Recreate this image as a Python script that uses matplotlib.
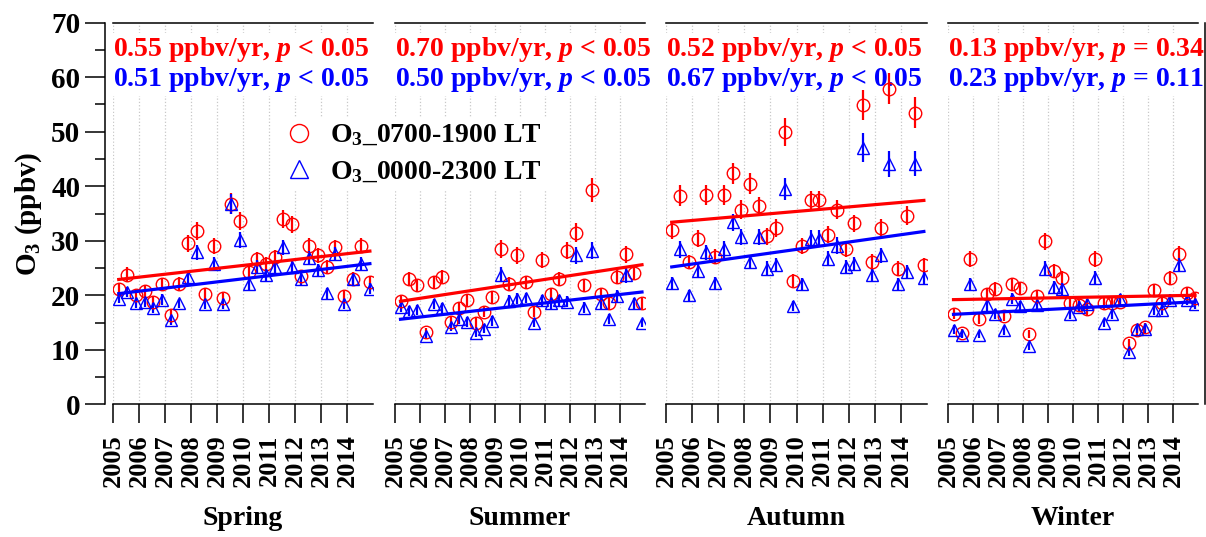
import numpy as np
import matplotlib
matplotlib.use("Agg")
import matplotlib.pyplot as plt
from matplotlib.lines import Line2D
from matplotlib.ticker import MultipleLocator

plt.rcParams['font.family'] = ['Liberation Serif', 'DejaVu Serif']
plt.rcParams['font.weight'] = 'bold'
plt.rcParams['mathtext.fontset'] = 'custom'
plt.rcParams['mathtext.rm'] = 'Liberation Serif:bold'
plt.rcParams['mathtext.it'] = 'Liberation Serif:italic:bold'
plt.rcParams['mathtext.bf'] = 'Liberation Serif:bold'

# data
seasons = ['Spring', 'Summer', 'Autumn', 'Winter']
years = list(range(2005, 2015))
month_offset = [0.22, 0.55, 0.88]   # three months of each season, in year fraction

o3_day = [
    [21.2, 23.8, 20.0, 20.8, 18.8, 22.0, 16.3, 22.1, 29.5, 31.8, 20.2, 29.0, 19.5, 36.8, 33.6,
     24.3, 26.7, 25.8, 27.0, 34.0, 33.0, 23.5, 29.1, 27.3, 25.2, 28.8, 19.8, 23.0, 29.1, 22.4],
    [18.9, 23.0, 21.8, 13.2, 22.4, 23.4, 15.1, 17.6, 19.1, 14.9, 17.0, 19.7, 28.5, 22.1, 27.3,
     22.4, 17.0, 26.5, 20.3, 23.0, 28.2, 31.5, 21.8, 39.3, 20.3, 18.5, 23.4, 27.5, 24.1, 18.5],
    [32.0, 38.3, 26.1, 30.4, 38.4, 27.1, 38.4, 42.4, 35.7, 40.5, 36.3, 30.8, 32.3, 50.0, 22.7,
     29.0, 37.4, 37.4, 31.1, 35.7, 28.4, 33.2, 54.9, 26.1, 32.3, 57.9, 24.9, 34.6, 53.5, 25.6],
    [16.6, 13.1, 26.7, 15.7, 20.2, 21.2, 16.2, 22.0, 21.4, 12.9, 19.8, 29.9, 24.5, 23.2, 18.6,
     18.2, 17.4, 26.7, 18.5, 18.6, 18.8, 11.2, 13.6, 14.2, 20.9, 18.5, 23.2, 27.5, 20.5, 19.5],
]
o3_day_err = [
    [1.0, 1.3, 1.0, 1.1, 1.0, 1.2, 1.0, 1.2, 1.5, 1.6, 1.1, 1.5, 1.0, 1.9, 1.7,
     1.2, 1.3, 1.3, 1.3, 1.7, 1.5, 1.2, 1.4, 1.3, 1.2, 1.4, 1.0, 1.2, 1.4, 1.1],
    [1.0, 1.2, 1.1, 0.8, 1.2, 1.2, 0.9, 1.0, 1.1, 0.9, 1.0, 1.1, 1.6, 1.2, 1.5,
     1.2, 1.0, 1.5, 1.1, 1.2, 1.6, 1.7, 1.2, 2.2, 1.1, 1.0, 1.3, 1.6, 1.3, 1.0],
    [1.6, 1.9, 1.3, 1.6, 1.9, 1.4, 1.9, 1.9, 1.8, 1.9, 1.7, 1.5, 1.6, 2.6, 1.2,
     1.5, 1.8, 1.8, 1.6, 1.7, 1.4, 1.6, 2.8, 1.4, 1.6, 2.9, 1.3, 1.7, 2.8, 1.3],
    [0.9, 0.8, 1.5, 0.9, 1.1, 1.2, 0.9, 1.2, 1.1, 0.8, 1.1, 1.6, 1.3, 1.3, 1.0,
     1.0, 1.0, 1.5, 1.0, 1.0, 1.0, 0.8, 0.8, 0.8, 1.1, 1.0, 1.3, 1.5, 1.1, 1.1],
]
o3_all = [
    [19.4, 20.6, 18.6, 18.8, 17.7, 19.2, 15.4, 18.5, 23.4, 27.9, 18.4, 25.8, 18.4, 36.8, 30.1,
     22.1, 25.2, 23.7, 25.2, 28.8, 25.2, 23.0, 26.9, 24.6, 20.4, 27.5, 18.4, 22.9, 25.8, 21.2],
    [17.9, 17.1, 17.3, 12.6, 18.4, 17.6, 14.2, 15.7, 15.1, 13.1, 13.9, 15.3, 23.8, 19.0, 19.4,
     19.5, 15.0, 19.1, 18.5, 19.1, 18.8, 27.3, 17.7, 28.2, 18.5, 15.7, 19.8, 23.7, 18.5, 14.9],
    [22.3, 28.4, 20.0, 24.5, 27.9, 22.3, 28.4, 33.4, 30.7, 26.1, 30.7, 24.9, 25.5, 39.5, 18.0,
     22.0, 30.4, 30.4, 26.7, 29.1, 25.2, 25.8, 47.1, 23.8, 27.3, 44.1, 22.1, 24.3, 44.1, 23.2],
    [13.7, 12.8, 22.0, 12.8, 18.2, 16.5, 13.6, 19.4, 18.0, 10.7, 18.2, 24.9, 21.6, 21.2, 16.5,
     17.9, 18.4, 23.2, 14.9, 16.6, 19.3, 9.6, 13.8, 13.9, 17.3, 17.3, 19.2, 25.5, 19.2, 18.4],
]
o3_all_err = [
    [0.9, 1.0, 0.9, 0.9, 0.9, 1.0, 0.8, 0.9, 1.1, 1.4, 0.9, 1.3, 0.9, 1.8, 1.5,
     1.1, 1.2, 1.1, 1.2, 1.4, 1.2, 1.1, 1.3, 1.2, 1.0, 1.3, 0.9, 1.1, 1.3, 1.0],
    [0.9, 0.9, 0.9, 0.7, 1.0, 0.9, 0.8, 0.9, 0.9, 0.8, 0.8, 0.9, 1.3, 1.0, 1.0,
     1.0, 0.8, 1.0, 1.0, 1.0, 1.0, 1.5, 1.0, 1.6, 1.0, 0.9, 1.1, 1.4, 1.0, 0.8],
    [1.1, 1.5, 1.0, 1.3, 1.4, 1.1, 1.5, 1.6, 1.5, 1.3, 1.5, 1.3, 1.3, 2.1, 0.9,
     1.1, 1.6, 1.6, 1.4, 1.5, 1.3, 1.3, 2.6, 1.2, 1.4, 2.4, 1.1, 1.3, 2.3, 1.2],
    [0.8, 0.7, 1.2, 0.7, 1.0, 0.9, 0.8, 1.0, 1.0, 0.7, 1.0, 1.3, 1.1, 1.1, 0.9,
     1.0, 1.0, 1.2, 0.8, 0.9, 1.0, 0.7, 0.8, 0.8, 0.9, 0.9, 1.0, 1.3, 1.0, 1.0],
]
# trend line values at first and last month
trend_day = [(22.9, 28.1), (18.9, 25.6), (33.4, 37.4), (19.2, 20.0)]
trend_all = [(20.3, 25.8), (15.6, 20.6), (25.2, 31.7), (16.5, 18.8)]
rate_day = ['0.55', '0.70', '0.52', '0.13']
rate_all = ['0.51', '0.50', '0.67', '0.23']
p_day = ['< 0.05', '< 0.05', '< 0.05', '= 0.34']
p_all = ['< 0.05', '< 0.05', '< 0.05', '= 0.11']

RED = '#ff0000'
BLUE = '#0000ff'
FS = 20

W, H = 1206, 537
fig = plt.figure(figsize=(W / 100, H / 100), dpi=100)
lefts = [113, 395, 666, 948]
widths = [260, 250, 261, 250]
bottom, top = 404.3, 22.7

xs = np.array([y + m for y in years for m in month_offset])

for i in range(4):
    ax = fig.add_axes([lefts[i] / W, (H - bottom) / H, widths[i] / W, (bottom - top) / H])
    ax.set_xlim(2005, 2015)
    ax.set_ylim(0, 70)

    ax.errorbar(xs, o3_day[i], yerr=o3_day_err[i], fmt='o', ms=9, mfc='none', mec=RED,
                mew=1.0, ecolor=RED, elinewidth=1.6, capsize=0, zorder=3)
    ax.errorbar(xs, o3_all[i], yerr=o3_all_err[i], fmt='^', ms=9, mfc='none', mec=BLUE,
                mew=1.0, ecolor=BLUE, elinewidth=1.6, capsize=0, zorder=3)
    ax.plot([xs[0], xs[-1]], trend_day[i], color=RED, lw=2.3, zorder=4)
    ax.plot([xs[0], xs[-1]], trend_all[i], color=BLUE, lw=2.3, zorder=4)

    ax.text(2005.0, 63.9, rate_day[i] + ' ppbv/yr, $p$ ' + p_day[i], color=RED,
            fontsize=FS, fontweight='bold', ha='left', va='baseline', zorder=2,
            bbox=dict(fc='white', ec='none', pad=1.5))
    ax.text(2005.0, 58.4, rate_all[i] + ' ppbv/yr, $p$ ' + p_all[i], color=BLUE,
            fontsize=FS, fontweight='bold', ha='left', va='baseline', zorder=2,
            bbox=dict(fc='white', ec='none', pad=1.5))

    ax.set_xticks(years)
    ax.set_xticklabels([str(y) for y in years], rotation=90, fontsize=19, fontweight='bold')
    ax.tick_params(axis='x', direction='out', length=13.5, width=1.1, pad=8)
    ax.grid(axis='x', color='#c8c8c8', linestyle=':', linewidth=0.9)
    ax.set_axisbelow(True)
    ax.set_xlabel(seasons[i], fontsize=FS, fontweight='bold', labelpad=14)

    for s in ax.spines.values():
        s.set_linewidth(1.1)
    ax.spines['right'].set_visible(i == 3)
    ax.spines['left'].set_visible(i == 0)
    if i == 3:
        ax.spines['right'].set_position(('outward', 5))
    if i == 0:
        ax.spines['left'].set_position(('outward', 6))
        ax.yaxis.set_major_locator(MultipleLocator(10))
        ax.yaxis.set_minor_locator(MultipleLocator(5))
        ax.tick_params(axis='y', which='major', direction='out', length=14.5, width=1.1,
                       labelsize=FS + 1, pad=3)
        ax.tick_params(axis='y', which='minor', direction='out', length=7.2, width=1.1)
        for lab in ax.get_yticklabels():
            lab.set_fontweight('bold')
        ax.set_ylabel('O$_3$ (ppbv)', fontsize=FS + 1, fontweight='bold', labelpad=5)
    else:
        ax.tick_params(axis='y', which='both', left=False, labelleft=False)

handles = [
    Line2D([], [], ls='none', marker='o', ms=13, mfc='none', mec=RED, mew=1.0),
    Line2D([], [], ls='none', marker='^', ms=13, mfc='none', mec=BLUE, mew=1.0),
]
labels = ['O$_3$_0700-1900 LT', 'O$_3$_0000-2300 LT']
leg = fig.legend(handles, labels, loc='upper left', bbox_to_anchor=(266 / W, 1 - 103 / H),
                 frameon=True, facecolor='white', edgecolor='none', framealpha=1,
                 fancybox=False, borderpad=0.2, handlelength=1.0, handletextpad=0.6,
                 labelspacing=0.4, prop={'family': 'Liberation Serif', 'weight': 'bold',
                                         'size': FS})

fig.savefig('out.png', dpi=100)
